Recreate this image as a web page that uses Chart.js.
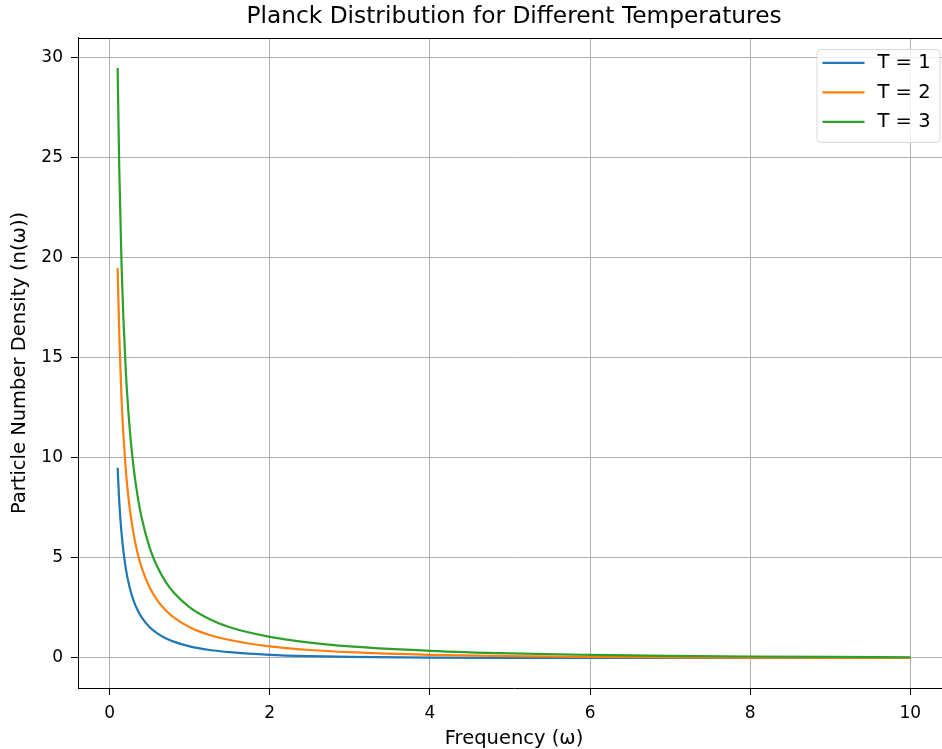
<!DOCTYPE html>
<html>
<head>
<meta charset="utf-8">
<script src="https://cdn.jsdelivr.net/npm/chart.js@4/dist/chart.umd.min.js"></script>
<style>
  html, body { margin: 0; padding: 0; overflow: hidden; background: #fff; }
  canvas { display: block; }
</style>
</head>
<body>
<canvas id="chart" width="950" height="749"></canvas>
<script>
// values
var freq = [0.1, 0.12, 0.15, 0.2, 0.25, 0.3, 0.35, 0.4, 0.5, 0.6, 0.7, 0.8, 1.0, 1.25, 1.5, 2, 2.5, 3, 4, 5, 6, 7, 8, 9, 10];
var nT1 = [9.51, 7.84, 6.18, 4.52, 3.52, 2.86, 2.39, 2.03, 1.54, 1.22, 0.99, 0.82, 0.58, 0.40, 0.29, 0.157, 0.089, 0.052, 0.019, 0.007, 0.0025, 0.0009, 0.0003, 0.0001, 0.00005];
var nT2 = [19.5, 16.2, 12.8, 9.51, 7.51, 6.18, 5.23, 4.52, 3.52, 2.86, 2.39, 2.03, 1.54, 1.15, 0.90, 0.58, 0.40, 0.29, 0.157, 0.089, 0.052, 0.031, 0.019, 0.011, 0.007];
var nT3 = [29.5, 24.5, 19.5, 14.5, 11.5, 9.51, 8.08, 7.01, 5.51, 4.52, 3.81, 3.27, 2.53, 1.94, 1.54, 1.06, 0.77, 0.58, 0.36, 0.23, 0.157, 0.107, 0.075, 0.052, 0.037];
var seriesLabels = ['T = 1', 'T = 2', 'T = 3'];
var seriesColors = ['#1f77b4', '#ff7f0e', '#2ca02c'];
var xTicks = [0, 2, 4, 6, 8, 10];
var yTicks = [0, 5, 10, 15, 20, 25, 30];

var FONT = "'DejaVu Sans', sans-serif";

function points(ys) {
    var out = [];
    for (var i = 0; i < freq.length; i++)
        out.push({x: freq[i], y: ys[i]});
    return out;
}

// top spine + matplotlib style legend box
var frame = {
    id: 'frame',
    afterDraw(chart) {
        var ctx = chart.ctx, a = chart.chartArea;
        ctx.save();
        ctx.strokeStyle = '#000';
        ctx.lineWidth = 1;
        ctx.beginPath();
        ctx.moveTo(a.left, Math.round(a.top) + 0.5);
        ctx.lineTo(a.right, Math.round(a.top) + 0.5);
        ctx.stroke();

        var w = 123, h = 93;
        var x = a.right - 10.5 - w, y = a.top + 11;
        ctx.fillStyle = 'rgba(255,255,255,0.8)';
        ctx.strokeStyle = '#d6d6d6';
        ctx.beginPath();
        ctx.roundRect(x + 0.5, y + 0.5, w, h, 4);
        ctx.fill();
        ctx.stroke();

        ctx.font = '19.5px ' + FONT;
        ctx.textBaseline = 'middle';
        ctx.fillStyle = '#000';
        ctx.lineWidth = 2.2;
        for (var i = 0; i < seriesLabels.length; i++) {
            var ly = y + 14 + i * 29.5;
            ctx.strokeStyle = seriesColors[i];
            ctx.beginPath();
            ctx.moveTo(x + 6, ly);
            ctx.lineTo(x + 48, ly);
            ctx.stroke();
            ctx.fillText(seriesLabels[i], x + 61, ly);
        }
        ctx.restore();
    }
};

var datasets = [];
var series = [nT1, nT2, nT3];
for (var i = 0; i < series.length; i++) {
    datasets.push({
        label: seriesLabels[i],
        data: points(series[i]),
        borderColor: seriesColors[i],
        backgroundColor: seriesColors[i],
        borderWidth: 2.2,
        pointRadius: 0,
        fill: false,
        cubicInterpolationMode: 'monotone',
        order: series.length - i
    });
}

new Chart('chart', {
    type: 'line',
    data: { datasets: datasets },
    plugins: [frame],
    options: {
        responsive: false,
        animation: false,
        layout: { padding: 0 },
        plugins: {
            legend: { display: false },
            tooltip: { enabled: false },
            title: {
                display: true,
                fullSize: false,
                text: 'Planck Distribution for Different Temperatures',
                color: '#000',
                font: { family: FONT, size: 23.3, weight: 'normal', lineHeight: 1.2 },
                padding: { top: 3, bottom: 7 }
            }
        },
        scales: {
            x: {
                type: 'linear',
                min: -0.395,
                max: 10.495,
                afterBuildTicks: function(axis) { axis.ticks = xTicks.map(v => ({value: v})); },
                afterFit: function(scale) { scale.height = 61; },
                ticks: { color: '#000', font: { family: FONT, size: 17 }, padding: 8, maxRotation: 0 },
                grid: { color: '#b0b0b0', lineWidth: 1, tickLength: 7, tickColor: '#000' },
                border: { color: '#000', width: 1 },
                title: {
                    display: true,
                    text: 'Frequency (ω)',
                    color: '#000',
                    font: { family: FONT, size: 19.5, lineHeight: 1.0 },
                    padding: { top: 0, bottom: 0 }
                }
            },
            y: {
                type: 'linear',
                min: -1.5,
                max: 31.0,
                afterBuildTicks: function(axis) { axis.ticks = yTicks.map(v => ({value: v})); },
                afterFit: function(scale) { scale.width = 78; },
                ticks: { color: '#000', font: { family: FONT, size: 17 }, padding: 8 },
                grid: { color: '#b0b0b0', lineWidth: 1, tickLength: 7, tickColor: '#000' },
                border: { color: '#000', width: 1 },
                title: {
                    display: true,
                    text: 'Particle Number Density (n(ω))',
                    color: '#000',
                    font: { family: FONT, size: 19.5, lineHeight: 1.2 },
                    padding: { top: 8.5, bottom: 0 }
                }
            }
        }
    }
});
</script>
</body>
</html>
